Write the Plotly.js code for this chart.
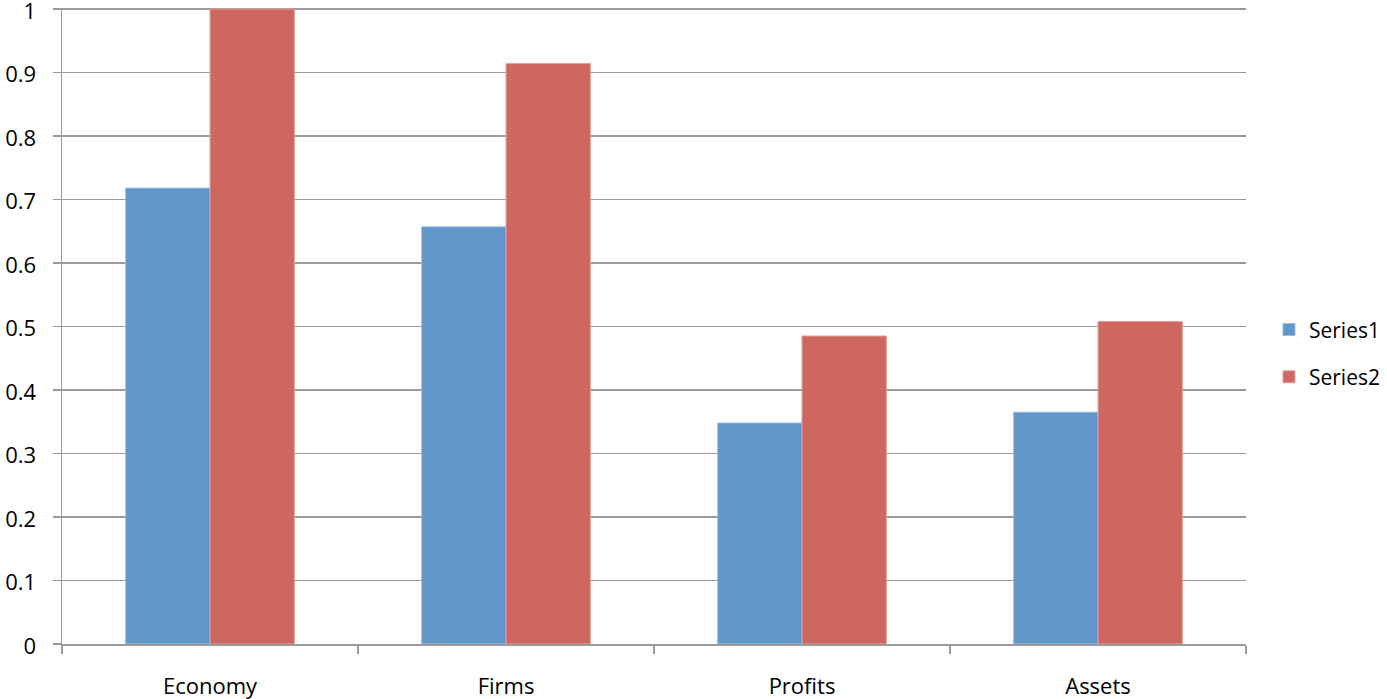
<!DOCTYPE html>
<html>
<head>
<meta charset="utf-8">
<script src="https://cdn.plot.ly/plotly-3.0.1.min.js"></script>
<style>
  html, body { margin: 0; padding: 0; background: #ffffff; }
  #chart { width: 1387px; height: 699px; }
</style>
</head>
<body>
<div id="chart"></div>
<script>
// Categories and the two series plotted as clustered columns
const categories = ["Economy", "Firms", "Profits", "Assets"];
const series1 = [0.718, 0.657, 0.348, 0.365];
const series2 = [1.0, 0.914, 0.485, 0.508];
const seriesNames = ["Series1", "Series2"];
const yTickValues = [0, 0.1, 0.2, 0.3, 0.4, 0.5, 0.6, 0.7, 0.8, 0.9, 1];
const yTickLabels = ["0", "0.1", "0.2", "0.3", "0.4", "0.5", "0.6", "0.7", "0.8", "0.9", "1"];

const FONT = "Open Sans, Lato, sans-serif";
const GRID = "#999999";
const LW = 1.5;

const traces = [
  {
    type: "bar",
    name: seriesNames[0],
    legendgroup: "s1",
    x: categories,
    y: series1,
    marker: { color: "#6096C9", line: { color: "#9dbde0", width: 1 } },
    hoverinfo: "x+y+name"
  },
  {
    type: "bar",
    name: seriesNames[1],
    legendgroup: "s2",
    x: categories,
    y: series2,
    marker: { color: "#CD675F", line: { color: "#e3a09b", width: 1 } },
    hoverinfo: "x+y+name"
  }
];

const layout = {
  width: 1387,
  height: 699,
  margin: { l: 62, r: 141, t: 8, b: 55, pad: 0, autoexpand: false },
  paper_bgcolor: "#ffffff",
  plot_bgcolor: "#ffffff",
  font: { family: FONT, size: 22, color: "#000000" },
  barmode: "group",
  bargap: 0.43,
  bargroupgap: 0,
  showlegend: true,
  legend: {
    x: 1.0194,
    xanchor: "left",
    y: 0.457,
    yanchor: "middle",
    font: { family: FONT, size: 21, color: "#000000" },
    itemwidth: 30,
    tracegroupgap: 17,
    bgcolor: "rgba(0,0,0,0)"
  },
  xaxis: {
    type: "category",
    showgrid: false,
    showline: true,
    linecolor: GRID,
    linewidth: LW,
    ticks: "outside",
    tickson: "boundaries",
    ticklen: 8,
    tickcolor: GRID,
    tickwidth: LW,
    ticklabelstandoff: 22,
    ticklabeloverflow: "allow",
    tickfont: { family: FONT, size: 22, color: "#000000" },
    zeroline: false,
    fixedrange: true
  },
  yaxis: {
    range: [0, 1.0016],
    tickmode: "array",
    tickvals: yTickValues,
    ticktext: yTickLabels,
    showgrid: true,
    gridcolor: GRID,
    gridwidth: LW,
    showline: true,
    linecolor: GRID,
    linewidth: LW,
    ticks: "outside",
    ticklen: 8,
    tickcolor: GRID,
    tickwidth: LW,
    ticklabelstandoff: 12,
    ticklabelshift: 2,
    ticklabeloverflow: "allow",
    tickfont: { family: FONT, size: 22, color: "#000000" },
    zeroline: false,
    fixedrange: true
  }
};

Plotly.newPlot("chart", traces, layout, { displayModeBar: false, staticPlot: true });
</script>
</body>
</html>
